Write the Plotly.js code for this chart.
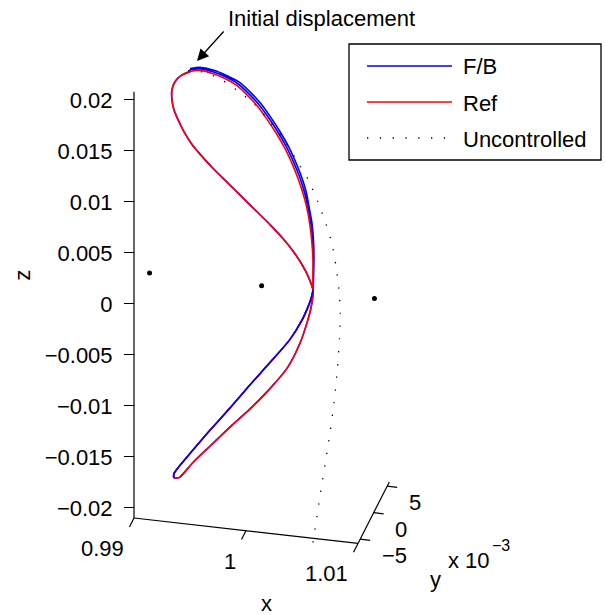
<!DOCTYPE html>
<html>
<head>
<meta charset="utf-8">
<script src="https://cdn.plot.ly/plotly-3.0.1.min.js"></script>
<style>
html,body{margin:0;padding:0;background:#ffffff;}
#chart{width:605px;height:615px;}
</style>
</head>
<body>
<div id="chart"></div>
<script>
// ---------------- data (x, z; y not readable in this view, taken as 0) ----------------
const refX = [1.00458,1.00458,1.00458,1.00449,1.00431,1.00404,1.00369,1.00324,1.00271,1.00208,1.00137,1.00056,0.99967,0.99869,0.99771,0.99663,0.99556,0.99449,0.99360,0.99279,0.99226,0.99199,0.99199,0.99217,0.99253,0.99306,0.99378,0.99467,0.99565,0.99690,0.99815,0.99949,1.00074,1.00190,1.00288,1.00369,1.00422,1.00458,1.00440,1.00413,1.00360,1.00253,1.00074,0.99896,0.99717,0.99538,0.99360,0.99262,0.99217,0.99217,0.99262,0.99387,0.99538,0.99717,0.99896,1.00074,1.00226,1.00342,1.00404,1.00440,1.00458];
const refZ = [-0.00035,0.00132,0.00309,0.00474,0.00648,0.00811,0.00953,0.01094,0.01234,0.01372,0.01500,0.01626,0.01751,0.01855,0.01940,0.01994,0.02028,0.02043,0.02021,0.01970,0.01904,0.01822,0.01724,0.01628,0.01535,0.01425,0.01307,0.01202,0.01098,0.00978,0.00858,0.00729,0.00609,0.00487,0.00364,0.00237,0.00127,0.00014,-0.00076,-0.00158,-0.00293,-0.00494,-0.00744,-0.00984,-0.01234,-0.01475,-0.01725,-0.01865,-0.01940,-0.01979,-0.01973,-0.01809,-0.01631,-0.01421,-0.01220,-0.00999,-0.00782,-0.00521,-0.00316,-0.00165,-0.00035];

const fbX = [
 0.99360,0.99458,0.99574,0.99681,0.99797,0.99896,0.99994,1.00083,1.00163,1.00235,1.00297,1.00351,1.00396,1.00422,1.00449,1.00463,1.00467,1.00463,
 1.00458,
 1.00440,1.00404,1.00342,1.00226,1.00074,0.99896,0.99717,0.99538,0.99387,0.99262,0.99217,0.99217,0.99262,0.99360,0.99538,0.99717,0.99896,1.00074,1.00253,1.00360,1.00413,1.00440,
 1.00458,1.00422,1.00369,1.00288,1.00190,1.00074,0.99949,0.99815,0.99690,0.99565,0.99467,0.99378,0.99306,0.99253,0.99217,0.99199,0.99199,0.99226,0.99279,0.99360,
 0.99360,0.99454,0.99565,0.99672,0.99784,0.99882,0.99980,1.00070,1.00150,1.00221,1.00284,1.00338,1.00382,1.00413,1.00440,1.00456,1.00463,1.00461,
 1.00458,
 1.00440,1.00404,1.00342,1.00226,1.00074,0.99896,0.99717,0.99538,0.99387,0.99262,0.99217,0.99217,0.99262,0.99360,0.99538,0.99717,0.99896,1.00074,1.00253,1.00360,1.00413,1.00440,
 1.00458,1.00422,1.00369,1.00288,1.00190,1.00074,0.99949,0.99815,0.99690,0.99565,0.99467,0.99378,0.99306,0.99253,0.99217,0.99199,0.99199,0.99226,0.99279,0.99360];
const fbZ = [
 0.02050,0.02073,0.02060,0.02025,0.01973,0.01888,0.01784,0.01659,0.01533,0.01405,0.01267,0.01127,0.00976,0.00833,0.00670,0.00495,0.00310,0.00133,
 -0.00035,
 -0.00165,-0.00316,-0.00521,-0.00782,-0.00999,-0.01220,-0.01421,-0.01631,-0.01809,-0.01973,-0.01979,-0.01940,-0.01865,-0.01725,-0.01475,-0.01234,-0.00984,-0.00744,-0.00494,-0.00293,-0.00158,-0.00076,
 0.00014,0.00127,0.00237,0.00364,0.00487,0.00609,0.00729,0.00858,0.00978,0.01098,0.01202,0.01307,0.01425,0.01535,0.01628,0.01724,0.01822,0.01904,0.01970,0.02021,
 0.02035,0.02058,0.02044,0.02010,0.01956,0.01872,0.01768,0.01643,0.01516,0.01389,0.01250,0.01111,0.00965,0.00822,0.00659,0.00485,0.00309,0.00132,
 -0.00035,
 -0.00165,-0.00316,-0.00521,-0.00782,-0.00999,-0.01220,-0.01421,-0.01631,-0.01809,-0.01973,-0.01979,-0.01940,-0.01865,-0.01725,-0.01475,-0.01234,-0.00984,-0.00744,-0.00494,-0.00293,-0.00158,-0.00076,
 0.00014,0.00127,0.00237,0.00364,0.00487,0.00609,0.00729,0.00858,0.00978,0.01098,0.01202,0.01307,0.01425,0.01535,0.01628,0.01724,0.01822,0.01904,0.01970,0.02021];

const unX = [0.99342,0.99494,0.99646,0.99788,0.99931,1.00065,1.00190,1.00306,1.00413,1.00503,1.00574,1.00628,1.00663,1.00690,1.00702,1.00695,1.00677,1.00646,1.00610,1.00574,1.00536,1.00494,1.00458];
const unZ = [0.02028,0.02029,0.01972,0.01883,0.01775,0.01627,0.01468,0.01278,0.01097,0.00883,0.00677,0.00489,0.00278,0.00046,-0.00178,-0.00424,-0.00720,-0.01068,-0.01367,-0.01626,-0.01887,-0.02196,-0.02466];

// equilibrium points (L1, Earth, L2)
const eqX = [0.98999, 0.999997, 1.01007];
const eqY = [0, 0, 0];
const eqZ = [0, 0, 0];

const xTicks = [0.99, 1, 1.01];
const xTickText = ['0.99', '1', '1.01'];
const yTicks = [-0.005, 0, 0.005];
const yTickText = ['\u22125', '0', '5'];
const zTicks = [-0.02, -0.015, -0.01, -0.005, 0, 0.005, 0.01, 0.015, 0.02];
const zTickText = zTicks.map(t => String(t).replace('-', '\u2212'));

const seriesNames = ['F/B', 'Ref', 'Uncontrolled'];

// ---------------- view / projection ----------------
const W = 605, H = 615;
const LIM = {x: [0.99, 1.01], y: [-0.0058, 0.0058], z: [-0.021, 0.0208]};
const O = {u: 134, v: 518};                       // pixel of (xmin, ymin, zmin)
const K = {ux: 11200, vx: 1270, uy: 2700, vy: -5300, vz: -10200};

function pix(x, y, z) {
  const dx = x - LIM.x[0], dy = y - LIM.y[0], dz = z - LIM.z[0];
  return {u: O.u + K.ux * dx + K.uy * dy, v: O.v + K.vx * dx + K.vy * dy + K.vz * dz};
}
function zeff(v) { return LIM.z[0] + (O.v - v) / (-K.vz); }
function pt(x, y, z) { const p = pix(x, y, z); return [p.u, zeff(p.v)]; }
function curve(xs, zs, ys) {
  const U = [], Z = [];
  xs.forEach((x, i) => { const p = pt(x, ys ? ys[i] : 0, zs[i]); U.push(p[0]); Z.push(p[1]); });
  return {x: U, y: Z};
}

const FONT = {family: 'Liberation Sans, Arial, Helvetica, sans-serif', size: 22, color: '#000'};
const LW = 1.6;
const SM = 0.7;

const fb = curve(fbX, fbZ);
const rf = curve(refX, refZ);
const un = curve(unX, unZ);
const eq = curve(eqX, eqZ, eqY);
const fbFront = {x: fb.x.slice(29, 42), y: fb.y.slice(29, 42)};

const traces = [
  {type: 'scatter', mode: 'lines', name: seriesNames[0], x: fb.x, y: fb.y, line: {color: '#0000ff', width: LW, shape: 'spline', smoothing: SM}, showlegend: false},
  {type: 'scatter', mode: 'lines', name: seriesNames[1], x: rf.x, y: rf.y, line: {color: '#ff0000', width: LW, shape: 'spline', smoothing: SM}, showlegend: false},
  {type: 'scatter', mode: 'lines', name: seriesNames[0], x: fbFront.x, y: fbFront.y, line: {color: '#0000ff', width: LW, shape: 'spline', smoothing: SM}, showlegend: false},
  {type: 'scatter', mode: 'lines', name: seriesNames[2], x: un.x, y: un.y, line: {color: '#000', width: 1.3, dash: '1.3px,11.5px', shape: 'spline', smoothing: SM}, showlegend: false},
  {type: 'scatter', mode: 'markers', name: 'equilibria', x: eq.x, y: eq.y, marker: {color: '#000', size: 5}, showlegend: false}
];

// ---------------- axes drawn in the projected view ----------------
const shapes = [];
const AXL = {color: '#000', width: 1.2};
function seg(a, b) { shapes.push({type: 'line', xref: 'x', yref: 'y', x0: a[0], y0: a[1], x1: b[0], y1: b[1], line: AXL}); }
// z axis
seg(pt(LIM.x[0], LIM.y[0], LIM.z[0]), pt(LIM.x[0], LIM.y[0], LIM.z[1]));
// x axis + ticks (pointing toward -y)
seg(pt(LIM.x[0], LIM.y[0], LIM.z[0]), pt(LIM.x[1], LIM.y[0], LIM.z[0]));
xTicks.forEach(t => seg(pt(t, LIM.y[0], LIM.z[0]), pt(t, LIM.y[0] - 0.00168, LIM.z[0])));
// y axis + ticks (pointing toward +x)
seg(pt(LIM.x[1], LIM.y[0], LIM.z[0]), pt(LIM.x[1], LIM.y[1], LIM.z[0]));
yTicks.forEach(t => seg(pt(LIM.x[1], t, LIM.z[0]), pt(LIM.x[1] + 0.00089, t, LIM.z[0])));

const annotations = [];
function txt(p, text, xshift, yshift, xanchor, extra) {
  annotations.push(Object.assign({xref: 'x', yref: 'y', x: p[0], y: p[1], text: text, showarrow: false,
    xshift: xshift, yshift: yshift, xanchor: xanchor, yanchor: 'middle', font: FONT}, extra || {}));
}
xTicks.forEach((t, i) => txt(pt(t, LIM.y[0], LIM.z[0]), xTickText[i], -8.5, -30.5, 'right'));
yTicks.forEach((t, i) => txt(pt(LIM.x[1], t, LIM.z[0]), yTickText[i], 19.5, -16.5, 'left'));
txt(pt(1.0, LIM.y[0], LIM.z[0]), 'x', 20, -73, 'center');
txt(pt(LIM.x[1], 0, LIM.z[0]), 'y', 62, -67, 'center');
txt(pt(LIM.x[1], 0, LIM.z[0]), 'x 10', 72, -48, 'left');
txt(pt(LIM.x[1], 0, LIM.z[0]), '\u22123', 116.5, -33, 'left', {font: Object.assign({}, FONT, {size: 16})});
txt(pt(LIM.x[0], 0, 0), 'z', -128, -2, 'center', {textangle: -90});

// paper-pixel helpers
const PX = u => u / W, PY = v => 1 - v / H;
annotations.push({xref: 'paper', yref: 'paper', x: PX(226), y: PY(18), text: 'Initial displacement', showarrow: false,
  xanchor: 'left', yanchor: 'middle', font: FONT});
annotations.push({xref: 'paper', yref: 'paper', x: PX(197), y: PY(61), text: '', showarrow: true,
  ax: 28, ay: -31, arrowhead: 2, arrowsize: 1.8, arrowwidth: 1.3, arrowcolor: '#000', standoff: 0});

// legend box
shapes.push({type: 'rect', xref: 'paper', yref: 'paper', x0: PX(349), x1: PX(601), y0: PY(160), y1: PY(44),
  line: {color: '#000', width: 1.3}, fillcolor: '#fff'});
const legRows = [66, 102, 138];
const legStyles = [{color: '#0000ff', width: 1.3}, {color: '#ff0000', width: 1.3}, {color: '#000', width: 1.3, dash: '1.3px,11.5px'}];
legRows.forEach((v, i) => {
  shapes.push({type: 'line', xref: 'paper', yref: 'paper', x0: PX(367), x1: PX(452), y0: PY(v), y1: PY(v), line: legStyles[i]});
  annotations.push({xref: 'paper', yref: 'paper', x: PX(461), y: PY(v + 1), text: seriesNames[i], showarrow: false,
    xanchor: 'left', yanchor: 'middle', font: FONT});
});

const layout = {
  width: W, height: H,
  margin: {l: 0, r: 0, t: 0, b: 0, pad: 0},
  paper_bgcolor: '#fff', plot_bgcolor: '#fff',
  showlegend: false,
  xaxis: {range: [0, W], visible: false, fixedrange: true},
  yaxis: {range: [zeff(H), zeff(0)], anchor: 'free', position: O.u / W, side: 'left',
    tickmode: 'array', tickvals: zTicks, ticktext: zTickText, ticks: 'outside', ticklen: 10, tickwidth: 1.2, tickcolor: '#000',
    ticklabelstandoff: 7,
    showline: false, showgrid: false, zeroline: false, automargin: false, tickfont: FONT, fixedrange: true},
  shapes: shapes,
  annotations: annotations
};

Plotly.newPlot('chart', traces, layout, {displayModeBar: false, staticPlot: true});
</script>
</body>
</html>
